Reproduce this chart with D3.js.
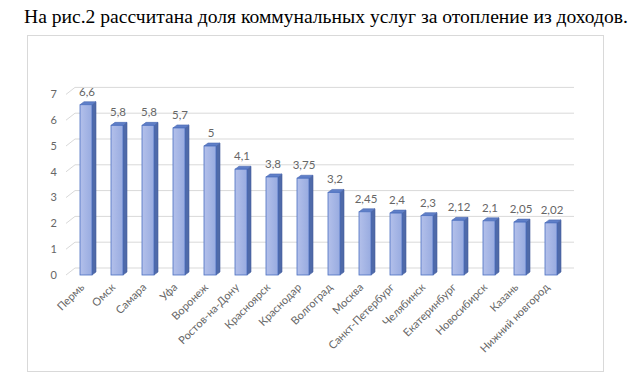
<!DOCTYPE html>
<html>
<head>
<meta charset="utf-8">
<script src="https://cdn.jsdelivr.net/npm/d3@7"></script>
<style>
  body { margin: 0; background: #fff; }
  svg { display: block; }
</style>
</head>
<body>
<div class="wrapper"></div>
<script>
var cities = ["Пермь", "Омск", "Самара", "Уфа", "Воронеж", "Ростов-на-Дону", "Красноярск", "Краснодар",
  "Волгоград", "Москва", "Санкт-Петербург", "Челябинск", "Екатеринбург", "Новосибирск", "Казань", "Нижний новгород"];
var values = [6.6, 5.8, 5.8, 5.7, 5, 4.1, 3.8, 3.75, 3.2, 2.45, 2.4, 2.3, 2.12, 2.1, 2.05, 2.02];
var labels = ["6,6", "5,8", "5,8", "5,7", "5", "4,1", "3,8", "3,75", "3,2", "2,45", "2,4", "2,3", "2,12", "2,1", "2,05", "2,02"];
var yTicks = [0, 1, 2, 3, 4, 5, 6, 7];
var title = "На рис.2 рассчитана доля коммунальных услуг за отопление из доходов.";

var width = 640,
    height = 379;

var svg = d3.select(".wrapper").append("svg")
    .attr("width", width)
    .attr("height", height);

var defs = svg.append("defs");
var grad = defs.append("linearGradient").attr("id", "front")
    .attr("x1", "0").attr("x2", "1").attr("y1", "0").attr("y2", "0");
grad.append("stop").attr("offset", "0").attr("stop-color", "#b3c0ea");
grad.append("stop").attr("offset", "1").attr("stop-color", "#98abe0");

svg.append("text")
    .attr("x", 24)
    .attr("y", 23)
    .attr("textLength", 604)
    .attr("lengthAdjust", "spacingAndGlyphs")
    .style("font-family", "'Liberation Serif', serif")
    .style("font-size", "19.5px")
    .style("fill", "#000")
    .text(title);

// chart frame
svg.append("rect")
    .attr("x", 27.5).attr("y", 35.5)
    .attr("width", 576).attr("height", 336)
    .attr("fill", "none")
    .attr("stroke", "#d9d9d9");

var y = d3.scaleLinear().domain([0, 7]).range([275, 94.4]);
var x = d3.scalePoint().domain(cities).range([86, 551]);

var depthX = 9, depthY = -7;   // back wall offset
var barW = 12, bdx = 4, bdy = -3;  // bar width and depth
var left = 66, right = 574;

var grid = svg.append("g");
yTicks.forEach(function(t) {
  grid.append("path")
    .attr("d", "M" + left + "," + y(t) + "L" + (left + depthX) + "," + (y(t) + depthY) +
      "L" + right + "," + (y(t) + depthY))
    .attr("fill", "none")
    .attr("stroke", "#d9d9d9")
    .attr("stroke-width", 1);
});

svg.append("g").selectAll("text")
    .data(yTicks)
  .enter().append("text")
    .attr("x", 57)
    .attr("y", function(d) { return y(d); })
    .attr("dy", "0.35em")
    .attr("text-anchor", "end")
    .style("font-family", "Lato, sans-serif")
    .style("font-size", "11px")
    .style("fill", "#666")
    .text(function(d) { return d; });

var bars = svg.append("g").selectAll("g")
    .data(values)
  .enter().append("g");

bars.append("path")
    .attr("d", function(d, i) {
      var c = x(cities[i]), y1 = y(d), y0 = y(0);
      return "M" + (c + barW / 2) + "," + y1 + "L" + (c + barW / 2 + bdx) + "," + (y1 + bdy) +
        "L" + (c + barW / 2 + bdx) + "," + (y0 + bdy) + "L" + (c + barW / 2) + "," + y0 + "Z";
    })
    .attr("fill", "#4f6aa9")
    .attr("stroke", "#435d9c")
    .attr("stroke-width", 0.6);

bars.append("path")
    .attr("d", function(d, i) {
      var c = x(cities[i]), y1 = y(d);
      return "M" + (c - barW / 2) + "," + y1 + "L" + (c - barW / 2 + bdx) + "," + (y1 + bdy) +
        "L" + (c + barW / 2 + bdx) + "," + (y1 + bdy) + "L" + (c + barW / 2) + "," + y1 + "Z";
    })
    .attr("fill", "#5f7fc8")
    .attr("stroke", "#4a68b0")
    .attr("stroke-width", 0.6);

bars.append("rect")
    .attr("x", function(d, i) { return x(cities[i]) - barW / 2; })
    .attr("y", function(d) { return y(d); })
    .attr("width", barW)
    .attr("height", function(d) { return y(0) - y(d); })
    .attr("fill", "url(#front)")
    .attr("stroke", "#4a6fc0")
    .attr("stroke-width", 0.8);

bars.append("text")
    .attr("x", function(d, i) { return x(cities[i]) + 1; })
    .attr("y", function(d) { return y(d) - 9; })
    .attr("text-anchor", "middle")
    .style("font-family", "Lato, sans-serif")
    .style("font-size", "11.5px")
    .style("fill", "#666")
    .text(function(d, i) { return labels[i]; });

svg.append("g").selectAll("text")
    .data(cities)
  .enter().append("text")
    .attr("transform", function(d) { return "translate(" + (x(d) - 1) + ",288) rotate(-45)"; })
    .attr("text-anchor", "end")
    .style("font-family", "Lato, sans-serif")
    .style("font-size", "11px")
    .style("fill", "#666")
    .text(function(d) { return d; });
</script>
</body>
</html>
